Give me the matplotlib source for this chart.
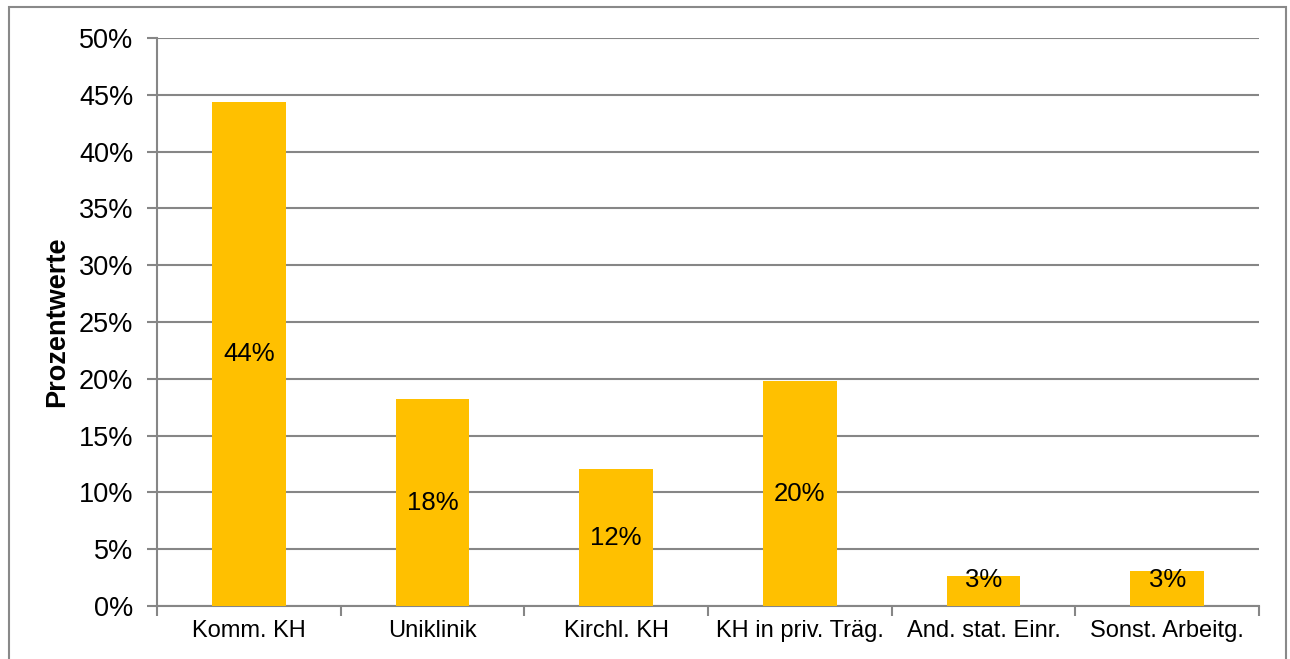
import matplotlib.pyplot as plt
import numpy as np
from matplotlib.patches import Rectangle

plt.rcParams['font.family'] = ['Liberation Sans', 'DejaVu Sans']

categories = ['Komm. KH', 'Uniklinik', 'Kirchl. KH', 'KH in priv. Träg.',
              'And. stat. Einr.', 'Sonst. Arbeitg.']
values = [44.4, 18.2, 12.05, 19.8, 2.65, 3.05]
labels = ['44%', '18%', '12%', '20%', '3%', '3%']

gray = '#868686'

fig = plt.figure(figsize=(12.9, 6.59), dpi=100)
ax = fig.add_axes([0.1217, 0.0804, 0.976 - 0.1217, 0.9423 - 0.0804])

x = np.arange(len(categories))
ax.bar(x, values, width=0.4, color='#FFC000', zorder=3)

for xi, v, lab in zip(x, values, labels):
    ax.text(xi, max(v / 2, 2.25), lab, ha='center', va='center',
            fontsize=18.5, color='black', zorder=4)

ax.set_xlim(-0.5, len(categories) - 0.5)
ax.set_ylim(0, 50)
ax.set_yticks(np.arange(0, 51, 5))
ax.set_yticklabels([f'{t}%' for t in range(0, 51, 5)], fontsize=19.5)
ax.yaxis.grid(True, color=gray, linewidth=1.5, zorder=0)

ax.set_xticks(np.arange(-0.5, len(categories), 1.0))
ax.set_xticklabels([])
ax.set_xticks(x, minor=True)
ax.set_xticklabels(categories, minor=True, fontsize=17)
ax.tick_params(axis='x', which='minor', length=0, pad=10)
ax.tick_params(axis='x', which='major', length=7, width=1.5, color=gray)
ax.tick_params(axis='y', length=7, width=1.5, color=gray, pad=10)

for side in ['top', 'right']:
    ax.spines[side].set_visible(False)
for side in ['left', 'bottom']:
    ax.spines[side].set_color(gray)
    ax.spines[side].set_linewidth(1.5)

ax.set_ylabel('Prozentwerte', fontsize=19.5, fontweight='bold', labelpad=6)

fig.patches.append(Rectangle((9 / 1290, -0.1), (1286 - 9) / 1290, 1.1 - 7 / 659,
                             transform=fig.transFigure, fill=False,
                             edgecolor='#898989', linewidth=1.5))

fig.savefig('out.png', dpi=100)
